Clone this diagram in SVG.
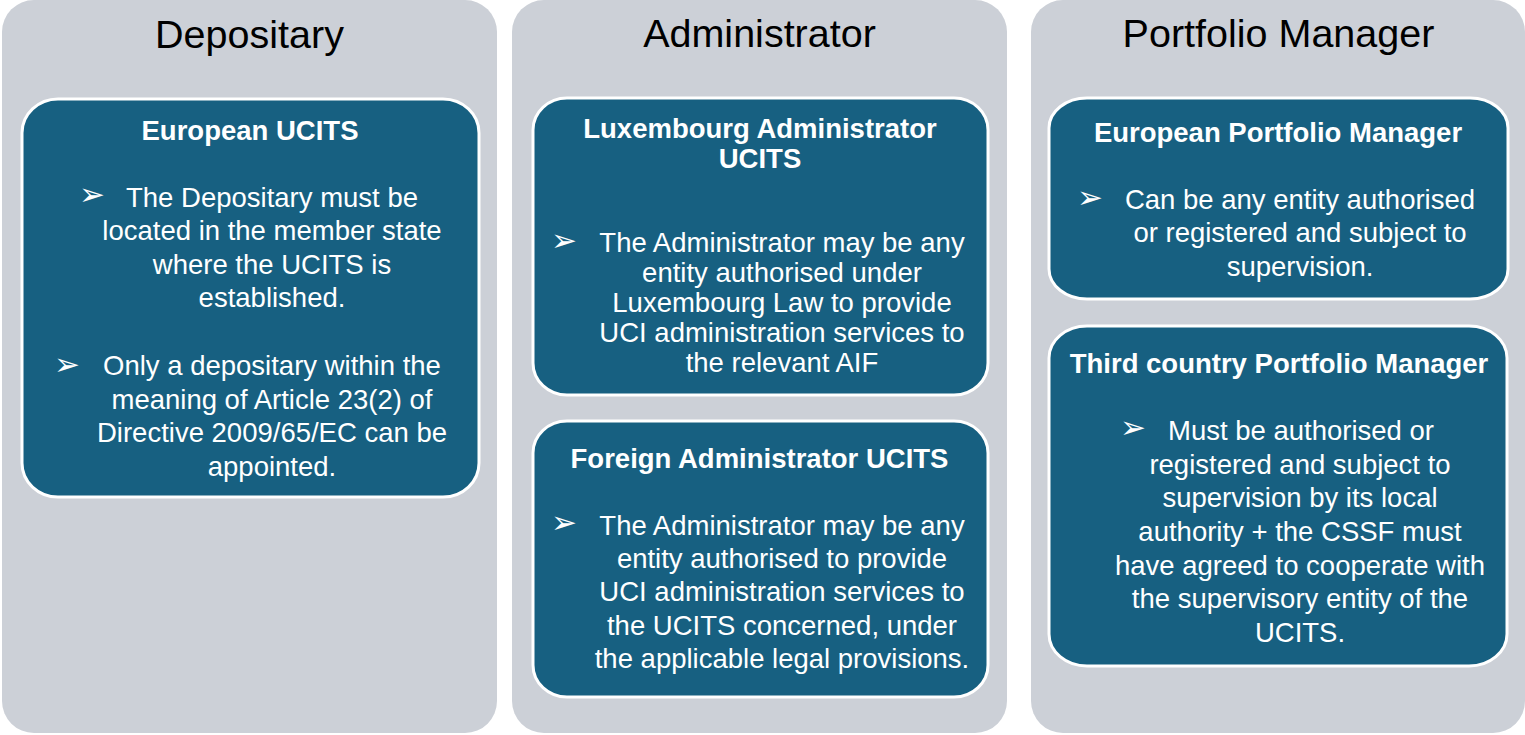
<svg xmlns="http://www.w3.org/2000/svg" width="1525" height="735" viewBox="0 0 1525 735">
  <style>
    .panel { fill: #CCD0D7; }
    .node { fill: #176081; stroke: #FFFFFF; stroke-width: 3; }
    .hdr { font-family: "Liberation Sans", Arial, sans-serif; font-size: 39.5px; fill: #000000; text-anchor: middle; }
    .ttl { font-family: "Liberation Sans", Arial, sans-serif; font-size: 27.5px; font-weight: bold; fill: #FFFFFF; text-anchor: middle; }
    .txt { font-family: "Liberation Sans", Arial, sans-serif; font-size: 27.5px; fill: #FFFFFF; text-anchor: middle; }
    .bul { font-family: "DejaVu Sans", sans-serif; font-size: 31px; fill: #FFFFFF; }
  </style>

  <g id="panel-depositary">
    <rect class="panel" x="2" y="0" width="495" height="733" rx="32" ry="32"/>
    <text class="hdr" x="249.5" y="47.5">Depositary</text>
  </g>
  <g id="panel-administrator">
    <rect class="panel" x="512" y="0" width="495" height="733" rx="32" ry="32"/>
    <text class="hdr" x="759.5" y="47">Administrator</text>
  </g>
  <g id="panel-portfolio-manager">
    <rect class="panel" x="1031" y="0" width="494" height="733" rx="32" ry="32"/>
    <text class="hdr" x="1278.5" y="47">Portfolio Manager</text>
  </g>

  <g id="node-european-ucits">
    <rect class="node" x="22" y="99" width="457" height="398" rx="36" ry="34"/>
    <text class="ttl" x="250" y="139.5">European UCITS</text>
    <text class="bul" x="79" y="205">➢</text>
    <text class="txt" x="272" y="206.5">The Depositary must be</text>
    <text class="txt" x="272" y="240">located in the member state</text>
    <text class="txt" x="272" y="273.5">where the UCITS is</text>
    <text class="txt" x="272" y="307">established.</text>
    <text class="bul" x="54" y="375">➢</text>
    <text class="txt" x="272" y="375">Only a depositary within the</text>
    <text class="txt" x="272" y="408.5">meaning of Article 23(2) of</text>
    <text class="txt" x="272" y="442">Directive 2009/65/EC can be</text>
    <text class="txt" x="272" y="475.5">appointed.</text>
  </g>

  <g id="node-luxembourg-administrator">
    <rect class="node" x="533" y="98" width="455" height="297" rx="34" ry="32"/>
    <text class="ttl" x="760" y="138">Luxembourg Administrator</text>
    <text class="ttl" x="760" y="167.5">UCITS</text>
    <text class="bul" x="551" y="251">➢</text>
    <text class="txt" x="782" y="252">The Administrator may be any</text>
    <text class="txt" x="782" y="282">entity authorised under</text>
    <text class="txt" x="782" y="312">Luxembourg Law to provide</text>
    <text class="txt" x="782" y="342">UCI administration services to</text>
    <text class="txt" x="782" y="372">the relevant AIF</text>
  </g>

  <g id="node-foreign-administrator">
    <rect class="node" x="533" y="421" width="455" height="276" rx="34" ry="32"/>
    <text class="ttl" x="759.5" y="467.5">Foreign Administrator UCITS</text>
    <text class="bul" x="551" y="533">➢</text>
    <text class="txt" x="782" y="534.5">The Administrator may be any</text>
    <text class="txt" x="782" y="568">entity authorised to provide</text>
    <text class="txt" x="782" y="601">UCI administration services to</text>
    <text class="txt" x="782" y="634.5">the UCITS concerned, under</text>
    <text class="txt" x="782" y="668">the applicable legal provisions.</text>
  </g>

  <g id="node-european-portfolio-manager">
    <rect class="node" x="1049" y="98" width="459" height="201" rx="38" ry="30"/>
    <text class="ttl" x="1278" y="141.5">European Portfolio Manager</text>
    <text class="bul" x="1077" y="208">➢</text>
    <text class="txt" x="1300" y="208.5">Can be any entity authorised</text>
    <text class="txt" x="1300" y="242">or registered and subject to</text>
    <text class="txt" x="1300" y="276">supervision.</text>
  </g>

  <g id="node-third-country-portfolio-manager">
    <rect class="node" x="1049" y="326" width="458" height="340" rx="38" ry="32"/>
    <text class="ttl" x="1279" y="373">Third country Portfolio Manager</text>
    <text class="bul" x="1120" y="438">➢</text>
    <text class="txt" x="1301" y="439.5">Must be authorised or</text>
    <text class="txt" x="1300" y="473.5">registered and subject to</text>
    <text class="txt" x="1300" y="507">supervision by its local</text>
    <text class="txt" x="1300" y="541">authority + the CSSF must</text>
    <text class="txt" x="1300" y="574.5">have agreed to cooperate with</text>
    <text class="txt" x="1300" y="608">the supervisory entity of the</text>
    <text class="txt" x="1300" y="641.5">UCITS.</text>
  </g>

  <g id="connectors"/>
</svg>
